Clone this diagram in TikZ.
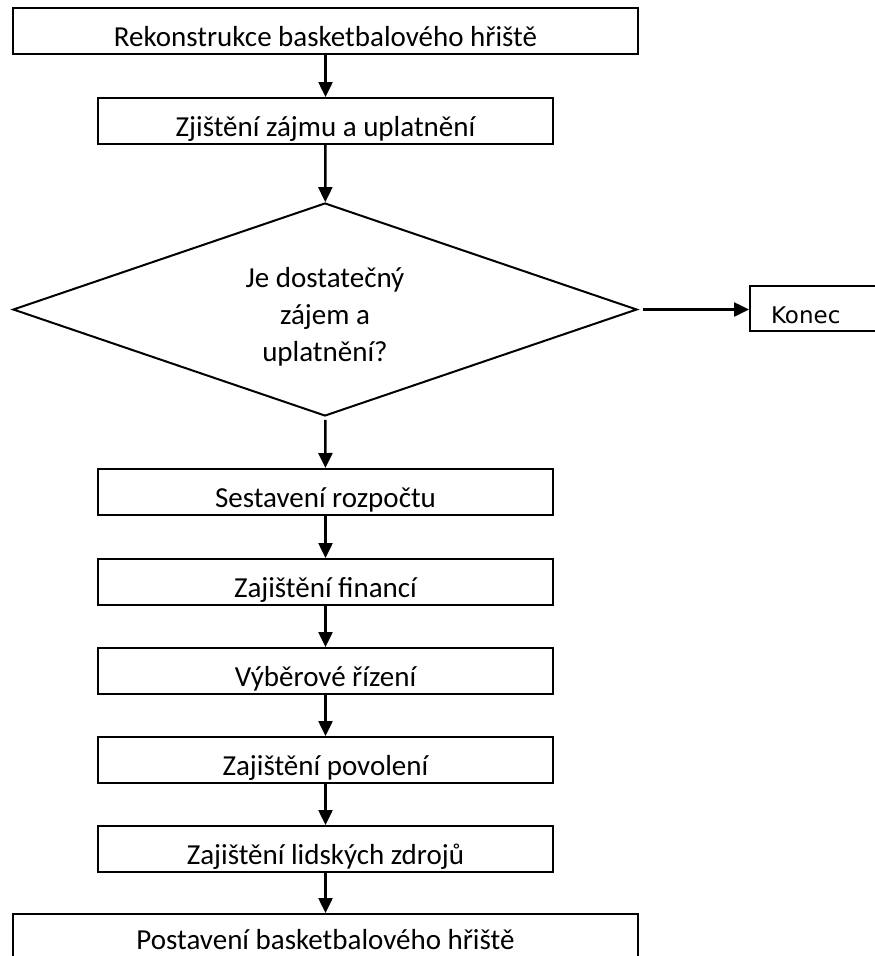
\documentclass[tikz,border=0pt]{standalone}
\usepackage{fontspec}
\setmainfont{Carlito}
\newfontfamily\konecfont{DejaVu Sans}
\usetikzlibrary{shapes.geometric,arrows.meta}

\begin{document}
\begin{tikzpicture}[x=1pt, y=-1pt, >={Triangle[length=15pt,width=14pt]},
		box_style/.style={rectangle,draw=black,line width=2pt,fill=white,anchor=north,inner ysep=0pt,text height=38pt,text depth=7.5pt,minimum width=455pt,font=\fontsize{29}{33}\selectfont},
		wide_style/.style={box_style,minimum width=625pt},
		decision_style/.style={diamond,draw=black,line width=2pt,fill=white,inner sep=0pt,aspect=2.93,minimum width=624pt,minimum height=213pt},
		end_style/.style={rectangle,draw=black,line width=2pt,fill=white,anchor=west,inner ysep=0pt,inner xsep=21pt,text width=110pt,align=left,text height=37pt,text depth=8pt,font=\konecfont\fontsize{23}{27}\selectfont},
		edge_style/.style={draw=black,line width=2.5pt,->}]

		\useasboundingbox (0,0) rectangle (875,956);
		\clip (0,0) rectangle (875,956);

		\node[wide_style] (n0) at (325.5,7) {Rekonstrukce basketbalového hřiště};
		\node[box_style] (n1) at (325.5,97) {Zjištění zájmu a uplatnění};
		\node[decision_style] (n2) at (325,309.5) {};
		\node[font=\fontsize{29}{37}\selectfont,align=center] (n2t) at (325,317) {Je dostatečný\\zájem a\\uplatnění?};
		\node[end_style] (n3) at (749,308.5) {Konec};
		\node[box_style] (n4) at (325.5,468) {Sestavení rozpočtu};
		\node[box_style] (n5) at (325.5,558) {Zajištění financí};
		\node[box_style] (n6) at (325.5,647) {Výběrové řízení};
		\node[box_style] (n7) at (325.5,736) {Zajištění povolení};
		\node[box_style] (n8) at (325.5,825) {Zajištění lidských zdrojů};
		\node[wide_style,text height=35pt,text depth=40pt] (n9) at (325.5,913) {Postavení basketbalového hřiště};

		\draw[edge_style]  (n0) edge (n1);
		\draw[edge_style]  (n1) edge (n2);
		\draw[edge_style, shorten <=5pt]  (n2.east) -- (n2.east -| n3.west);
		\draw[edge_style, shorten <=3pt]  (n2) edge (n4);
		\draw[edge_style]  (n4) edge (n5);
		\draw[edge_style]  (n5) edge (n6);
		\draw[edge_style]  (n6) edge (n7);
		\draw[edge_style]  (n7) edge (n8);
		\draw[edge_style]  (n8) edge (n9);

\end{tikzpicture}
\end{document}
